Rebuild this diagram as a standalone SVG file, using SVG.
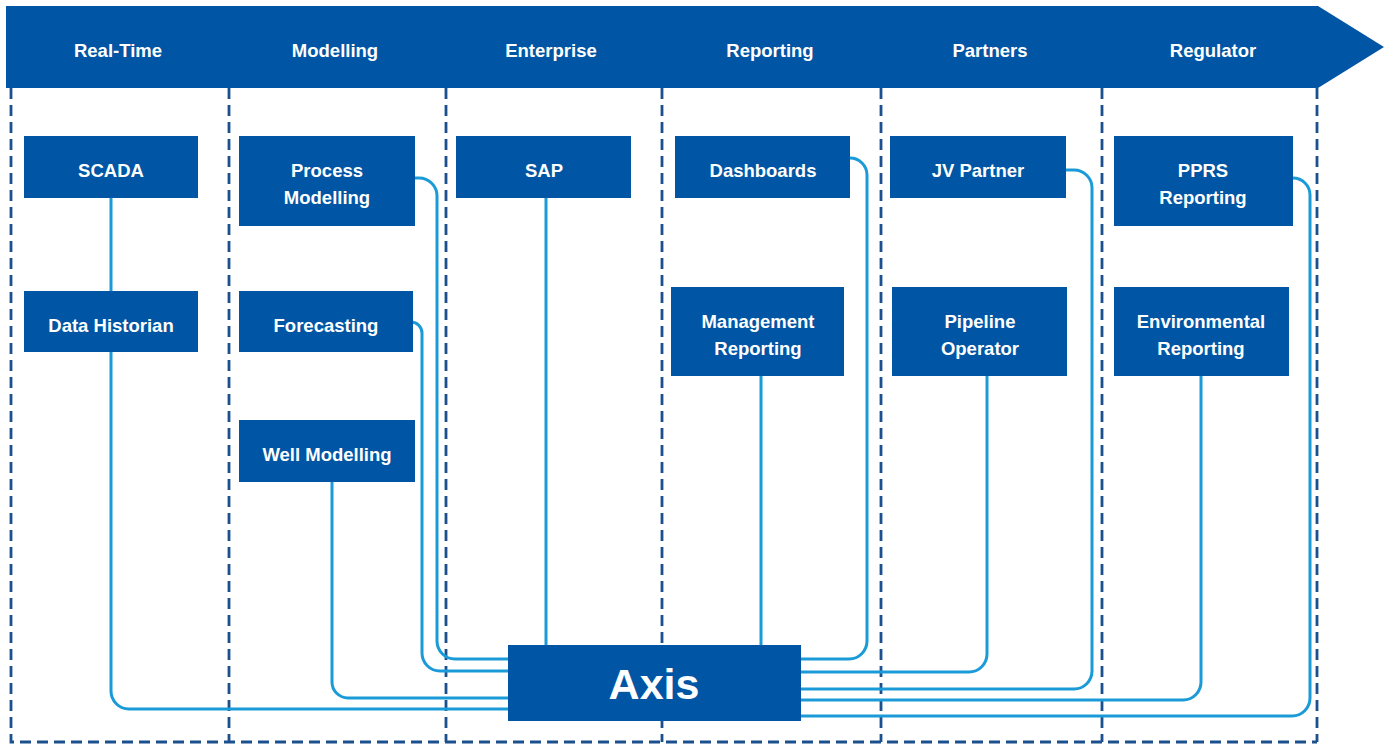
<svg xmlns="http://www.w3.org/2000/svg" width="1392" height="744" viewBox="0 0 1392 744">
<style>
.lane{stroke:#1b4f8e;stroke-width:2.8;stroke-dasharray:11,6;fill:none}
.hdr{font-family:"Liberation Sans",Arial,sans-serif;font-weight:bold;font-size:18.5px;fill:#fff;text-anchor:middle}
.node rect{fill:#0056a4}
.node text{font-family:"Liberation Sans",Arial,sans-serif;font-weight:bold;font-size:18.5px;fill:#fff;text-anchor:middle}
.conn path{stroke:#1a9bd7;stroke-width:3;fill:none}
</style>
<rect width="1392" height="744" fill="#fff"/>
<g id="lanes">
<path class="lane" d="M11,88 V742 H1317 M229,88 V742 M446,88 V742 M662,88 V742 M881,88 V742 M1102,88 V742 M1317,88 V742"/>
</g>
<g id="header">
<polygon points="6,6 1318,6 1384,47 1318,88 6,88" fill="#0056a4"/>
<text class="hdr" x="118" y="57">Real-Time</text>
<text class="hdr" x="335" y="57">Modelling</text>
<text class="hdr" x="551" y="57">Enterprise</text>
<text class="hdr" x="770" y="57">Reporting</text>
<text class="hdr" x="990" y="57">Partners</text>
<text class="hdr" x="1213" y="57">Regulator</text>
</g>
<g id="connectors" class="conn">
<path d="M111,198 V291"/>
<path d="M111,352 V691 A18,18 0 0 0 129,709 H508"/>
<path d="M332,482 V682 A16,16 0 0 0 348,698 H508"/>
<path d="M415,178 H419 A18,18 0 0 1 437,196 V641 A18,18 0 0 0 455,659 H508"/>
<path d="M411,322 A11,11 0 0 1 422,333 V653 A18,18 0 0 0 440,671 H508"/>
<path d="M546,198 V645"/>
<path d="M761,376 V645"/>
<path d="M850,158 A17,17 0 0 1 867,175 V641 A18,18 0 0 1 849,659 H801"/>
<path d="M987,376 V654 A18,18 0 0 1 969,672 H801"/>
<path d="M1066,170 H1074 A18,18 0 0 1 1092,188 V671 A18,18 0 0 1 1074,689 H801"/>
<path d="M1201,376 V682 A18,18 0 0 1 1183,700 H801"/>
<path d="M1293,178 A17,17 0 0 1 1310,195 V698 A18,18 0 0 1 1292,716 H801"/>
</g>
<g id="scada" class="node"><rect x="24" y="136" width="174" height="62"/><text x="111" y="177">SCADA</text></g>
<g id="data-historian" class="node"><rect x="24" y="291" width="174" height="61"/><text x="111" y="332">Data Historian</text></g>
<g id="process-modelling" class="node"><rect x="239" y="136" width="176" height="90"/><text x="327" y="177">Process</text><text x="327" y="204">Modelling</text></g>
<g id="forecasting" class="node"><rect x="239" y="291" width="174" height="61"/><text x="326" y="332">Forecasting</text></g>
<g id="well-modelling" class="node"><rect x="239" y="420" width="176" height="62"/><text x="327" y="461">Well Modelling</text></g>
<g id="sap" class="node"><rect x="456" y="136" width="175" height="62"/><text x="544" y="177">SAP</text></g>
<g id="dashboards" class="node"><rect x="675" y="136" width="175" height="62"/><text x="763" y="177">Dashboards</text></g>
<g id="management-reporting" class="node"><rect x="671" y="287" width="173" height="89"/><text x="758" y="328">Management</text><text x="758" y="355">Reporting</text></g>
<g id="jv-partner" class="node"><rect x="890" y="136" width="176" height="62"/><text x="978" y="177">JV Partner</text></g>
<g id="pipeline-operator" class="node"><rect x="892" y="287" width="175" height="89"/><text x="980" y="328">Pipeline</text><text x="980" y="355">Operator</text></g>
<g id="pprs-reporting" class="node"><rect x="1114" y="136" width="179" height="90"/><text x="1203" y="177">PPRS</text><text x="1203" y="204">Reporting</text></g>
<g id="environmental-reporting" class="node"><rect x="1114" y="287" width="175" height="89"/><text x="1201" y="328">Environmental</text><text x="1201" y="355">Reporting</text></g>
<g id="axis" class="node"><rect x="508" y="645" width="293" height="76"/><text x="654" y="699" style="font-size:43px">Axis</text></g>
</svg>
